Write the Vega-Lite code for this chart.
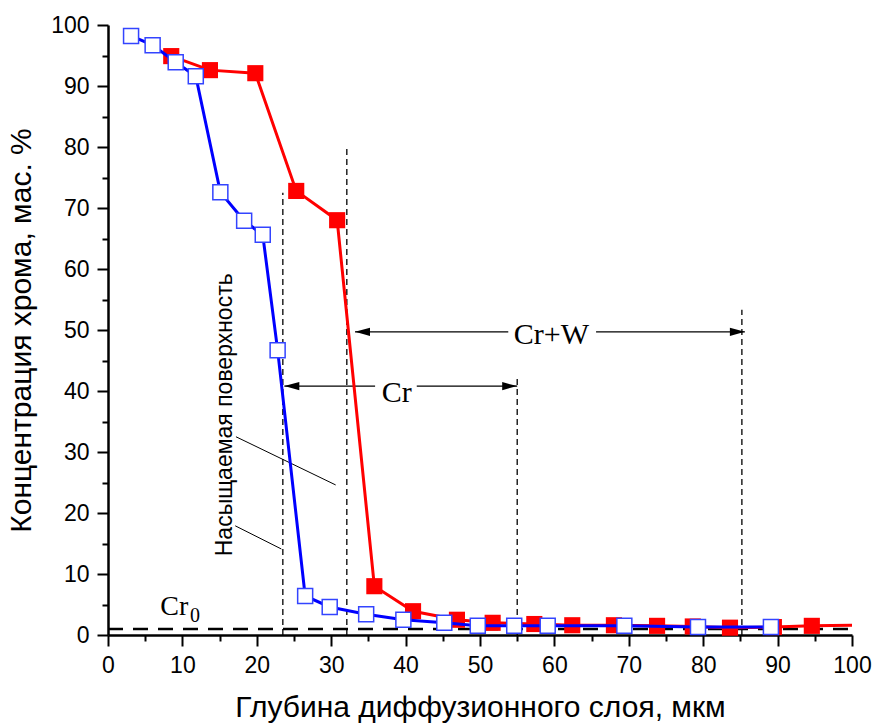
{
  "$schema": "https://vega.github.io/schema/vega-lite/v6.json",
  "width": 744,
  "height": 610,
  "autosize": "none",
  "padding": {"left": 108, "top": 25, "right": 22, "bottom": 90},
  "background": "white",
  "config": {
    "view": {"stroke": null},
    "axis": {
      "grid": false,
      "domainColor": "black",
      "domainWidth": 2.5,
      "tickColor": "black",
      "tickWidth": 2,
      "tickSize": 11,
      "labelFont": "Liberation Sans",
      "labelFontSize": 23,
      "labelColor": "black",
      "titleFont": "Liberation Sans",
      "titleFontSize": 30,
      "titleFontWeight": "normal",
      "titleColor": "black"
    }
  },
  "resolve": {"axis": {"x": "independent", "y": "independent"}},
  "datasets": {
    "red": [
      {"x": 8.5, "y": 94.9}, {"x": 13.7, "y": 92.6}, {"x": 19.8, "y": 92.1},
      {"x": 25.3, "y": 72.8}, {"x": 30.8, "y": 68.0}, {"x": 35.8, "y": 8.0},
      {"x": 41.0, "y": 3.9}, {"x": 46.9, "y": 2.5}, {"x": 51.7, "y": 2.0},
      {"x": 57.3, "y": 1.8}, {"x": 62.4, "y": 1.6}, {"x": 68.0, "y": 1.6},
      {"x": 73.8, "y": 1.5}, {"x": 78.6, "y": 1.4}, {"x": 83.6, "y": 1.2},
      {"x": 89.5, "y": 1.3}, {"x": 94.6, "y": 1.5}, {"x": 100, "y": 1.6}
    ],
    "blue": [
      {"x": 3.1, "y": 98.2}, {"x": 6.0, "y": 96.7}, {"x": 9.1, "y": 93.9},
      {"x": 11.8, "y": 91.6}, {"x": 15.1, "y": 72.6}, {"x": 18.3, "y": 67.9},
      {"x": 20.8, "y": 65.6}, {"x": 22.8, "y": 46.7}, {"x": 26.5, "y": 6.4},
      {"x": 29.8, "y": 4.6}, {"x": 34.7, "y": 3.4}, {"x": 39.7, "y": 2.5},
      {"x": 45.2, "y": 2.0}, {"x": 49.7, "y": 1.5}, {"x": 54.6, "y": 1.5},
      {"x": 59.1, "y": 1.5}, {"x": 69.4, "y": 1.5}, {"x": 79.3, "y": 1.3},
      {"x": 89.1, "y": 1.3}
    ],
    "vlines": [
      {"x": 23.5, "y0": 0, "y1": 72.5},
      {"x": 32.1, "y0": 0, "y1": 80},
      {"x": 55.0, "y0": 0, "y1": 42},
      {"x": 85.2, "y0": 0, "y1": 53.3}
    ],
    "segments": [
      {"x1": 23.7, "x2": 35.9, "y": 40.8},
      {"x1": 41.5, "x2": 55.0, "y": 40.8},
      {"x1": 33.2, "x2": 53.8, "y": 49.7},
      {"x1": 65.6, "x2": 85.6, "y": 49.7}
    ],
    "heads": [
      {"x": 23.7, "y": 40.8, "dir": "L"},
      {"x": 55.0, "y": 40.8, "dir": "R"},
      {"x": 33.2, "y": 49.7, "dir": "L"},
      {"x": 85.6, "y": 49.7, "dir": "R"}
    ],
    "leaders": [
      {"x1": 17.2, "y1": 32.5, "x2": 30.6, "y2": 24.6},
      {"x1": 17.1, "y1": 17.9, "x2": 23.3, "y2": 14.1}
    ],
    "bigLabels": [
      {"x": 38.8, "y": 38.2, "t": "Cr"},
      {"x": 59.6, "y": 47.7, "t": "Cr+W"}
    ],
    "cr0": [{"x": 8.9, "y": 3.3, "t": "Cr"}],
    "cr0sub": [{"x": 11.7, "y": 2.1, "t": "0"}],
    "note": [{"x": 15.7, "y": 36.1, "t": "Насыщаемая поверхность"}],
    "baseline": [{"x1": 0, "x2": 100, "y": 1.0}]
  },
  "layer": [
    {
      "data": {"name": "baseline"},
      "mark": {"type": "rule", "color": "black", "strokeWidth": 2.5, "strokeDash": [15, 10]},
      "encoding": {
        "x": {"field": "x1", "type": "quantitative", "scale": {"domain": [0, 100]},
          "axis": {"orient": "bottom", "title": "Глубина диффузионного слоя, мкм", "values": [0,10,20,30,40,50,60,70,80,90,100], "labelPadding": 8, "titlePadding": 15, "labelFlush": false}},
        "x2": {"field": "x2"},
        "y": {"field": "y", "type": "quantitative", "scale": {"domain": [0, 100]},
          "axis": {"orient": "left", "title": "Концентрация хрома, мас.  %", "values": [0,10,20,30,40,50,60,70,80,90,100], "labelPadding": 8, "titlePadding": 14, "labelFlush": false}}
      }
    },
    {
      "data": {"name": "baseline"},
      "mark": {"type": "point", "opacity": 0},
      "encoding": {
        "x": {"field": "x1", "type": "quantitative",
          "axis": {"orient": "bottom", "title": null, "labels": false, "domain": false, "tickSize": 6, "values": [5,15,25,35,45,55,65,75,85,95]}},
        "y": {"field": "y", "type": "quantitative",
          "axis": {"orient": "left", "title": null, "labels": false, "domain": false, "tickSize": 6, "values": [5,15,25,35,45,55,65,75,85,95]}}
      }
    },
    {
      "data": {"name": "vlines"},
      "mark": {"type": "rule", "color": "black", "strokeWidth": 1.3, "strokeDash": [6, 4]},
      "encoding": {
        "x": {"field": "x", "type": "quantitative", "axis": null},
        "y": {"field": "y0", "type": "quantitative", "axis": null},
        "y2": {"field": "y1"}
      }
    },
    {
      "data": {"name": "segments"},
      "mark": {"type": "rule", "color": "black", "strokeWidth": 1.3},
      "encoding": {
        "x": {"field": "x1", "type": "quantitative", "axis": null},
        "x2": {"field": "x2"},
        "y": {"field": "y", "type": "quantitative", "axis": null}
      }
    },
    {
      "data": {"name": "heads"},
      "mark": {"type": "point", "filled": true, "color": "black", "opacity": 1, "size": 900, "strokeWidth": 0},
      "encoding": {
        "x": {"field": "x", "type": "quantitative", "axis": null},
        "y": {"field": "y", "type": "quantitative", "axis": null},
        "shape": {"field": "dir", "type": "nominal", "legend": null,
          "scale": {"domain": ["L", "R"], "range": ["M0,0L1,-0.27L1,0.27Z", "M0,0L-1,-0.27L-1,0.27Z"]}}
      }
    },
    {
      "data": {"name": "leaders"},
      "mark": {"type": "rule", "color": "black", "strokeWidth": 1},
      "encoding": {
        "x": {"field": "x1", "type": "quantitative", "axis": null},
        "y": {"field": "y1", "type": "quantitative", "axis": null},
        "x2": {"field": "x2"},
        "y2": {"field": "y2"}
      }
    },
    {
      "data": {"name": "red"},
      "mark": {"type": "line", "color": "#FF0000", "strokeWidth": 3},
      "encoding": {
        "x": {"field": "x", "type": "quantitative", "axis": null},
        "y": {"field": "y", "type": "quantitative", "axis": null}
      }
    },
    {
      "data": {"name": "red"},
      "transform": [{"filter": "datum.x < 99"}],
      "mark": {"type": "point", "shape": "square", "filled": true, "color": "#FF0000", "opacity": 1, "size": 260},
      "encoding": {
        "x": {"field": "x", "type": "quantitative", "axis": null},
        "y": {"field": "y", "type": "quantitative", "axis": null}
      }
    },
    {
      "data": {"name": "blue"},
      "mark": {"type": "line", "color": "#0000FF", "strokeWidth": 3},
      "encoding": {
        "x": {"field": "x", "type": "quantitative", "axis": null},
        "y": {"field": "y", "type": "quantitative", "axis": null}
      }
    },
    {
      "data": {"name": "blue"},
      "mark": {"type": "point", "shape": "square", "filled": true, "fill": "white", "stroke": "#3344FF", "strokeWidth": 1.5, "opacity": 1, "size": 225},
      "encoding": {
        "x": {"field": "x", "type": "quantitative", "axis": null},
        "y": {"field": "y", "type": "quantitative", "axis": null}
      }
    },
    {
      "data": {"name": "bigLabels"},
      "mark": {"type": "text", "font": "Liberation Serif", "fontSize": 30, "color": "black", "align": "center", "baseline": "alphabetic"},
      "encoding": {
        "x": {"field": "x", "type": "quantitative", "axis": null},
        "y": {"field": "y", "type": "quantitative", "axis": null},
        "text": {"field": "t"}
      }
    },
    {
      "data": {"name": "cr0"},
      "mark": {"type": "text", "font": "Liberation Serif", "fontSize": 28, "color": "black", "align": "center", "baseline": "alphabetic"},
      "encoding": {
        "x": {"field": "x", "type": "quantitative", "axis": null},
        "y": {"field": "y", "type": "quantitative", "axis": null},
        "text": {"field": "t"}
      }
    },
    {
      "data": {"name": "cr0sub"},
      "mark": {"type": "text", "font": "Liberation Serif", "fontSize": 20, "color": "black", "align": "center", "baseline": "alphabetic"},
      "encoding": {
        "x": {"field": "x", "type": "quantitative", "axis": null},
        "y": {"field": "y", "type": "quantitative", "axis": null},
        "text": {"field": "t"}
      }
    },
    {
      "data": {"name": "note"},
      "mark": {"type": "text", "font": "Liberation Sans", "fontSize": 23, "color": "black", "angle": 270, "align": "center", "baseline": "middle"},
      "encoding": {
        "x": {"field": "x", "type": "quantitative", "axis": null},
        "y": {"field": "y", "type": "quantitative", "axis": null},
        "text": {"field": "t"}
      }
    }
  ]
}
